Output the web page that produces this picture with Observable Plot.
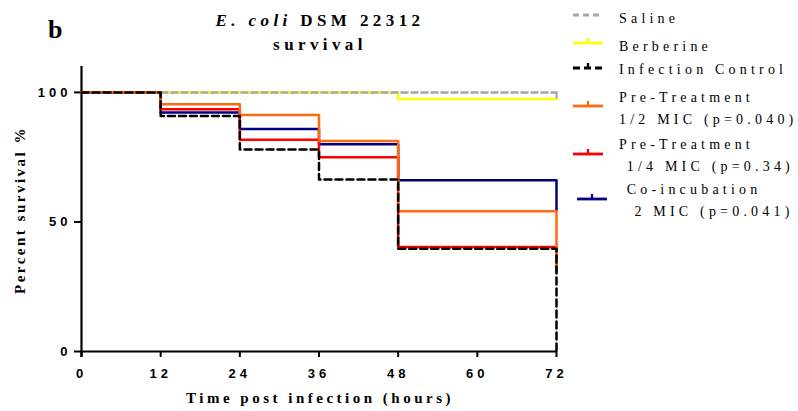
<!DOCTYPE html>
<html>
<head>
<meta charset="utf-8">
<script src="https://cdn.jsdelivr.net/npm/d3@7"></script>
<script src="https://cdn.jsdelivr.net/npm/@observablehq/plot@0.6"></script>
<style>
  html, body { margin: 0; padding: 0; background: #fff; }
  #chart svg { display: block; }
  [aria-label="x-axis tick label"] text, [aria-label="y-axis tick label"] text {
    font-family: "Liberation Sans", Arial, sans-serif; font-weight: bold; font-size: 13px; letter-spacing: 4px; fill: #000;
  }
</style>
</head>
<body>
<div id="chart"></div>
<script>
// ---- data ----
const times = [0, 12, 24, 36, 48, 72, 72];
const saline            = [100, 100, 100, 100, 100, 100, 100];
const berberine         = [100, 100, 100, 100, 97.5, 97.5, 97.5];
const infectionControl  = [100, 90.9, 78, 66.4, 39.7, 39.7, 0];
const preHalfMIC        = [100, 95.4, 91.3, 81.2, 54.1, 54.1, 33];
const preQuarterMIC     = [100, 93.5, 81.7, 75, 40.3, 40.3, 30.6];
const coIncubation2MIC  = [100, 92.2, 85.9, 80, 66.1, 66.1, 54.5];
const seriesNames = ["Saline", "Berberine", "Infection Control", "Pre-Treatment 1/2 MIC", "Pre-Treatment 1/4 MIC", "Co-incubation 2 MIC"];
const seriesValues = [saline, berberine, infectionControl, preHalfMIC, preQuarterMIC, coIncubation2MIC];
const legendLabels = [["Saline"], ["Berberine"], ["Infection Control"], ["Pre-Treatment", "1/2 MIC (p=0.040)"], ["Pre-Treatment", " 1/4 MIC (p=0.34)"], [" Co-incubation", "  2 MIC (p=0.041)"]];
const xTicks = [0, 12, 24, 36, 48, 60, 72];
const yTicks = [0, 50, 100];
const censorTime = [72];
const censorFrom = [97.5];
const censorTo = [100];

// ---- styles ----
const colors = ["#a6a6a6", "#ffff00", "#000000", "#ff6a10", "#ff0000", "#000080"];
const dashes = ["6,4", null, "7,4", null, null, null];
const drawOrder = [1, 0, 5, 4, 3, 2];

const rows = [];
seriesNames.forEach((s, i) => times.forEach((t, j) => rows.push({series: s, t, v: seriesValues[i][j]})));

const lineMarks = drawOrder.map(i => Plot.line(rows.filter(d => d.series === seriesNames[i]), {
  x: "t", y: "v", curve: "step-after", stroke: colors[i], strokeWidth: 2.5,
  strokeDasharray: dashes[i] || undefined
}));

const plot = Plot.plot({
  width: 798, height: 411,
  marginLeft: 81, marginRight: 242, marginTop: 66, marginBottom: 60,
  x: {domain: [0, 72]},
  y: {domain: [0, 110]},
  marks: [
    Plot.axisX({ticks: xTicks, tickSize: 6, tickPadding: 11, label: null, strokeWidth: 2}),
    Plot.axisY({ticks: yTicks, tickSize: 7, tickPadding: 3, label: null, strokeWidth: 2}),
    Plot.ruleY([0], {strokeWidth: 2.2}),
    Plot.ruleX([0], {y1: -2.3, y2: 110, strokeWidth: 2.2}),
    ...lineMarks,
    Plot.ruleX(censorTime, {y1: censorFrom, y2: censorTo, stroke: colors[0], strokeWidth: 2.3})
  ]
});
document.getElementById("chart").append(plot);

const svg = d3.select(plot);
const serif = "'Liberation Serif', 'Times New Roman', serif";

// panel letter
svg.append("text").attr("x", 48).attr("y", 38).attr("text-anchor", "start").attr("font-family", serif).attr("font-weight", "bold").attr("font-size", 26).attr("fill", "#000").text("b");

// title
const t1 = svg.append("text").attr("x", 320).attr("y", 26).attr("text-anchor", "middle")
  .attr("font-family", serif).attr("font-weight", "bold").attr("font-size", 17).attr("letter-spacing", 4.4).attr("fill", "#000");
t1.append("tspan").attr("font-style", "italic").text("E. coli");
t1.append("tspan").text(" DSM 22312");
svg.append("text").attr("x", 320).attr("y", 50).attr("text-anchor", "middle")
  .attr("font-family", serif).attr("font-weight", "bold").attr("font-size", 17).attr("letter-spacing", 4.4).attr("fill", "#000").text("survival");

// axis titles
svg.append("text").attr("transform", "translate(25,210) rotate(-90)").attr("text-anchor", "middle")
  .attr("font-family", serif).attr("font-weight", "bold").attr("font-size", 15).attr("letter-spacing", 2.5).attr("fill", "#000").text("Percent survival %");
svg.append("text").attr("x", 320).attr("y", 403).attr("text-anchor", "middle")
  .attr("font-family", serif).attr("font-weight", "bold").attr("font-size", 15).attr("letter-spacing", 3.5).attr("fill", "#000").text("Time post infection (hours)");

// legend
const legendLineY = [15, 43, 68, 106, 154, 199];
const legendTextY = [23, 51, 74, 102, 149, 194];
const legendLineX = [573, 573, 573, 573, 573, 577];
const legendTick = [false, true, true, true, true, true];
seriesNames.forEach((s, i) => {
  const g = svg.append("g");
  const x0 = legendLineX[i], y0 = legendLineY[i];
  g.append("line").attr("x1", x0).attr("x2", x0 + 30).attr("y1", y0).attr("y2", y0)
    .attr("stroke", colors[i]).attr("stroke-width", 2.8).attr("stroke-dasharray", dashes[i]);
  if (legendTick[i]) g.append("line").attr("x1", x0 + 15).attr("x2", x0 + 15).attr("y1", y0).attr("y2", y0 - 5)
    .attr("stroke", colors[i]).attr("stroke-width", 2.3);
  legendLabels[i].forEach((lab, k) => {
    g.append("text").attr("x", 619).attr("y", legendTextY[i] + k * 22).attr("text-anchor", "start")
      .attr("font-family", serif).attr("font-size", 14).attr("letter-spacing", 4.2).attr("fill", "#000")
      .attr("xml:space", "preserve").style("white-space", "pre").text(lab);
  });
});
</script>
</body>
</html>
